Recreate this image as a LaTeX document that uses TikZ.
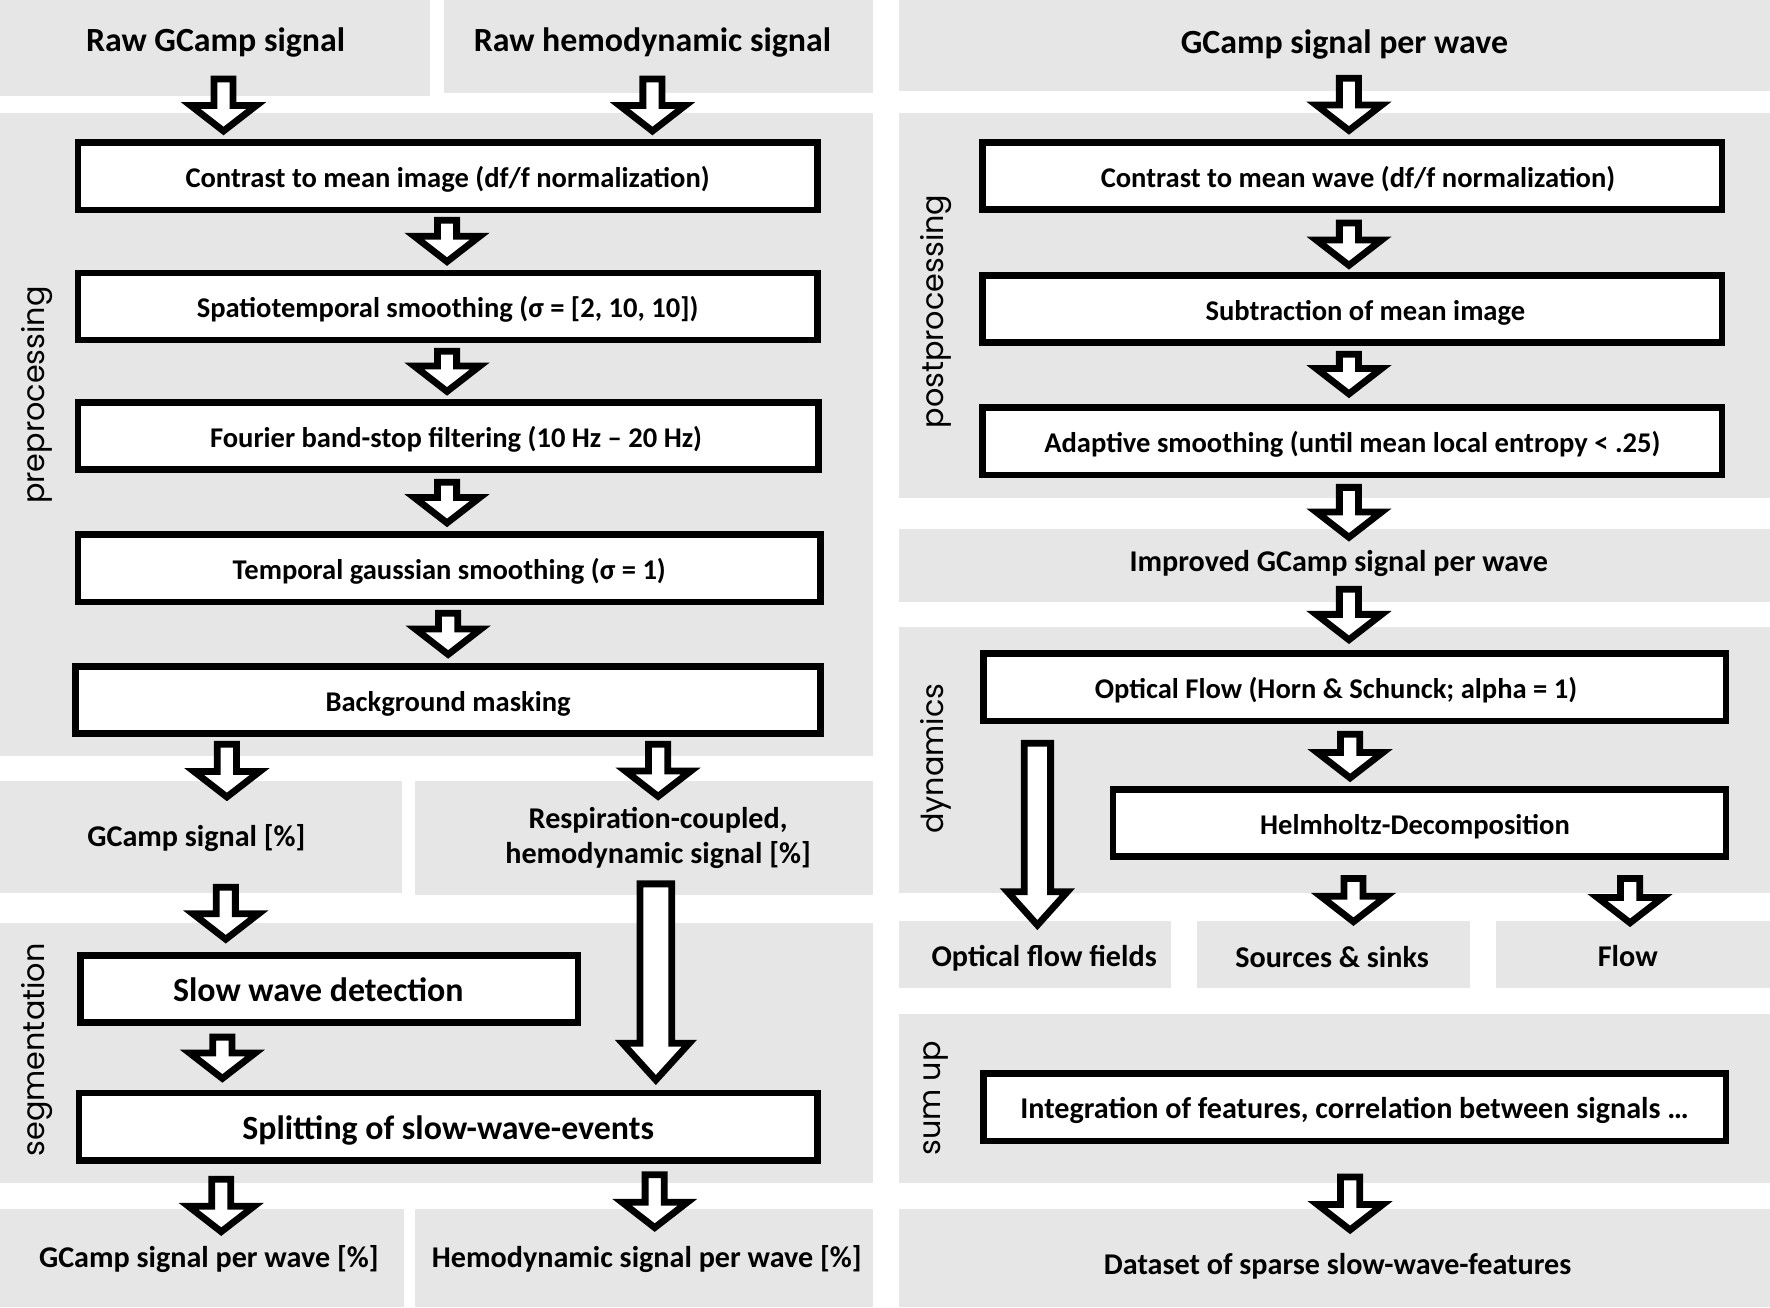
\documentclass[tikz,border=0pt]{standalone}
\usepackage{fontspec}
\setmainfont{Carlito}
\newfontfamily\vlabfont{Poppins}
\usetikzlibrary{calc}
\definecolor{panelgray}{RGB}{230,230,230}
\tikzset{
  stepbox/.style={draw=black, fill=white, line width=6pt, inner sep=0pt,
    minimum height=59.5pt, font=\fontsize{25.3}{29}\selectfont\bfseries,
    text height=25pt, text depth=5pt},
  bigbox/.style={stepbox, font=\fontsize{30}{34}\selectfont\bfseries, text height=29pt, text depth=6pt},
  heading/.style={inner sep=0pt, font=\fontsize{30}{34}\selectfont\bfseries},
  plabel/.style={inner sep=0pt, font=\fontsize{26.7}{31}\selectfont\bfseries, align=center},
  vlab/.style={inner sep=0pt, rotate=90, font=\vlabfont\fontsize{26.8}{30}\selectfont},
  blockarrow/.style={draw=black, fill=white, line width=6pt, line join=miter}
}
% #1 outer shaft half width, #2 outer head half width, #3 outer head length, #4 outer top, #5 outer tip
\newcommand{\barrow}[5]{%
  \draw[blockarrow] let \p1=#4, \p2=#5 in
    (\x1-#1pt+3pt,\y1-3pt) -- (\x1+#1pt-3pt,\y1-3pt) -- (\x1+#1pt-3pt,\y2+#3pt-3pt)
    -- (\x1+#2pt-4pt,\y2+#3pt-3pt) -- (\x1,\y2+4.5pt) -- (\x1-#2pt+4pt,\y2+#3pt-3pt)
    -- (\x1-#1pt+3pt,\y2+#3pt-3pt) -- cycle;}
\newcommand{\sarrow}[2]{\barrow{11.5}{33}{30}{#1}{#2}}
\begin{document}
\begin{tikzpicture}[x=1pt,y=1pt]
\useasboundingbox (0,0) rectangle (1568,-1158);
% ---------- panels ----------
\fill[panelgray] (0,0) rectangle (381,-85);
\fill[panelgray] (393,0) rectangle (773,-82);
\fill[panelgray] (0,-100) rectangle (773,-670);
\fill[panelgray] (0,-692) rectangle (356,-791);
\fill[panelgray] (368,-692) rectangle (773,-793);
\fill[panelgray] (0,-818) rectangle (773,-1048);
\fill[panelgray] (0,-1071) rectangle (358,-1158);
\fill[panelgray] (368,-1071) rectangle (773,-1158);
\fill[panelgray] (796,0) rectangle (1568,-81);
\fill[panelgray] (796,-100) rectangle (1568,-441);
\fill[panelgray] (796,-469) rectangle (1568,-533);
\fill[panelgray] (796,-555) rectangle (1568,-791);
\fill[panelgray] (796,-816) rectangle (1037,-875);
\fill[panelgray] (1060,-816) rectangle (1302,-875);
\fill[panelgray] (1325,-816) rectangle (1568,-875);
\fill[panelgray] (796,-898) rectangle (1568,-1048);
\fill[panelgray] (796,-1071) rectangle (1568,-1158);
% ---------- side labels ----------
\node[vlab] (vpre) at (33,-350) {preprocessing};
\node[vlab] (vseg) at (33,-930) {segmentation};
\node[vlab] (vpost) at (829,-276) {postprocessing};
\node[vlab] (vdyn) at (829,-672) {dynamics};
\node[vlab] (vsum) at (829,-973) {sum up};
% ---------- texts ----------
\node[heading] (rawg) at (191,-38) {Raw GCamp signal};
\node[heading] (rawh) at (578,-38) {Raw hemodynamic signal};
\node[heading] (gpw) at (1191,-39) {GCamp signal per wave};
\node[plabel] (gsig) at (174,-742) {GCamp signal [\%]};
\node[plabel] (resp) at (583,-742.5) {Respiration-coupled,\\hemodynamic signal [\%]};
\node[plabel] (gout) at (185,-1115.5) {GCamp signal per wave [\%]};
\node[plabel] (hout) at (573,-1115.5) {Hemodynamic signal per wave [\%]};
\node[plabel] (impr) at (1186,-499.5) {Improved GCamp signal per wave};
\node[plabel] (off) at (925,-848.5) {Optical flow fields};
\node[plabel] (ss) at (1180,-847.5) {Sources \& sinks};
\node[plabel] (flow) at (1442,-846.5) {Flow};
\node[plabel] (data) at (1185,-1121.5) {Dataset of sparse slow-wave-features};
% ---------- boxes ----------
\node[stepbox, minimum width=655] (c1) at (396.5,-156.3) {Contrast to mean image (df/f normalization)};
\node[stepbox, minimum width=655] (c2) at (396.5,-271.5) {Spatiotemporal smoothing (σ = [2, 10, 10])};
\node[stepbox, minimum width=656] (c3) at (397,-386.5) {Fourier band-stop filtering (10 Hz – 20 Hz)\hspace*{-14pt}};
\node[stepbox, minimum width=658] (c4) at (398,-503.5) {Temporal gaussian smoothing (σ = 1)};
\node[stepbox, minimum width=660] (c5) at (397,-620) {Background masking};
\node[bigbox, minimum width=441] (s1) at (291.5,-876) {\hspace*{-19pt}Slow wave detection};
\node[bigbox, minimum width=654] (s2) at (397,-998) {Splitting of slow-wave-events};
\node[stepbox, minimum width=655] (p1) at (1198,-155.8) {Contrast to mean wave (df/f normalization)\hspace*{-10pt}};
\node[stepbox, minimum width=655] (p2) at (1198,-274) {Subtraction of mean image\hspace*{-23pt}};
\node[stepbox, minimum width=655] (p3) at (1198,-391) {Adaptive smoothing (until mean local entropy < .25)};
\node[stepbox, minimum width=658] (d1) at (1200,-609) {\hspace*{-33pt}Optical Flow (Horn \& Schunck; alpha = 1)};
\node[stepbox, minimum width=543] (d2) at (1257.5,-729) {\hspace*{-8pt}Helmholtz-Decomposition};
\node[stepbox, minimum width=658, font=\fontsize{26.7}{30}\selectfont\bfseries] (u1) at (1200,-981) {Integration of features, correlation between signals …};
% ---------- arrows ----------
\sarrow{(198,-67)}{($(198,0 |- c1.north)+(0,3)$)}
\sarrow{(578,-67)}{($(578,0 |- c1.north)+(0,3)$)}
\sarrow{($(396,0 |- c1.south)+(0,-3)$)}{($(396,0 |- c2.north)+(0,2.5)$)}
\sarrow{($(396,0 |- c2.south)+(0,-4)$)}{($(396,0 |- c3.north)+(0,2.5)$)}
\sarrow{($(396,0 |- c3.south)+(0,-5)$)}{($(396,0 |- c4.north)+(0,3)$)}
\sarrow{($(397,0 |- c4.south)+(0,-4)$)}{($(397,0 |- c5.north)+(0,3)$)}
\sarrow{($(201,0 |- c5.south)+(0,-3.6)$)}{(201,-710.5)}
\sarrow{($(583,0 |- c5.south)+(0,-3.6)$)}{(583,-710)}
\sarrow{(200,-783)}{($(200,0 |- s1.north)+(0,6.7)$)}
\sarrow{($(197,0 |- s1.south)+(0,-7)$)}{($(197,0 |- s2.north)+(0,5.4)$)}
\barrow{17}{33.5}{40}{(581,-780)}{($(581,0 |- s2.north)+(0,4)$)}
\sarrow{($(196,0 |- s2.south)+(0,-11)$)}{(196,-1095.6)}
\sarrow{($(580,0 |- s2.south)+(0,-7)$)}{(580,-1092)}
\sarrow{(1195,-66.4)}{($(1195,0 |- p1.north)+(0,3)$)}
\sarrow{($(1195,0 |- p1.south)+(0,-6)$)}{($(1195,0 |- p2.north)+(0,1.7)$)}
\sarrow{($(1195,0 |- p2.south)+(0,-4)$)}{($(1195,0 |- p3.north)+(0,4.8)$)}
\sarrow{($(1195,0 |- p3.south)+(0,-5)$)}{(1195,-480.5)}
\sarrow{(1195,-519)}{($(1195,0 |- d1.north)+(0,5)$)}
\sarrow{($(1196,0 |- d1.south)+(0,-5.6)$)}{($(1196,0 |- d2.north)+(0,2.6)$)}
\barrow{14.7}{30.5}{37}{($(919,0 |- d1.south)+(0,-13.6)$)}{(919,-824)}
\sarrow{($(1199,0 |- d2.south)+(0,-13.5)$)}{(1199,-821)}
\sarrow{($(1444,0 |- d2.south)+(0,-13.5)$)}{(1444,-822)}
\sarrow{($(1196,0 |- u1.south)+(0,-26)$)}{(1196,-1094)}
\end{tikzpicture}
\end{document}
